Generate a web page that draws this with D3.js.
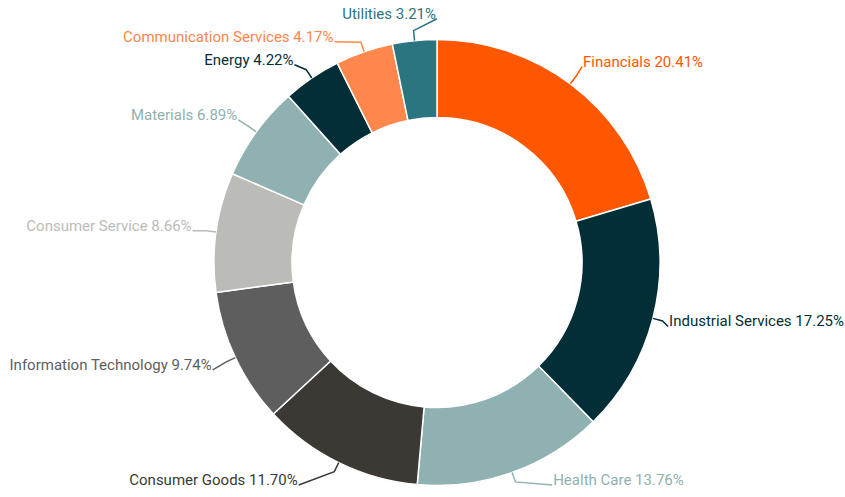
<!DOCTYPE html>
<html><head><meta charset="utf-8">
<script src="https://cdn.jsdelivr.net/npm/d3@7"></script>
<style>body{margin:0;background:#fff}svg{display:block}</style></head>
<body><svg id="c" width="845" height="497"></svg>
<script>
const categories = ["Financials","Industrial Services","Health Care","Consumer Goods","Information Technology","Consumer Service","Materials","Energy","Communication Services","Utilities"];
const values = [20.41,17.25,13.76,11.70,9.74,8.66,6.89,4.22,4.17,3.21];
const colors = ["#FF5700","#022F37","#8FB1B1","#3C3934","#5E5E5E","#BBBCB8","#8FB1B1","#022F37","#FF874B","#2B7580"];

const W=845,H=497,cx=437,cy=262.5,R=223,r=145,LR=247;
const svg=d3.select("#c");
const pie=d3.pie().sort(null).value(d=>d.value);
const arcs=pie(categories.map((c,i)=>({name:c,value:values[i],color:colors[i]})));
const arc=d3.arc().innerRadius(r).outerRadius(R);
const g=svg.append("g").attr("transform",`translate(${cx},${cy})`);
g.selectAll("path.slice").data(arcs).join("path").attr("class","slice")
  .attr("d",arc).attr("fill",d=>d.data.color).attr("stroke","#fff").attr("stroke-width",1.5);

// label layout
const labs=arcs.map(a=>{
  const m=(a.startAngle+a.endAngle)/2;
  return {a, m, side: Math.sin(m)>=0?1:-1, y:-LR*Math.cos(m)-2,
          ax:R*Math.sin(m), ay:-R*Math.cos(m),
          bx:(R+10)*Math.sin(m), by:-(R+10)*Math.cos(m)};
});
const maxY=H-cy-16, minGap=23;
[1,-1].forEach(s=>{
  const L=labs.filter(l=>l.side===s).sort((p,q)=>p.y-q.y);
  for(let i=1;i<L.length;i++) if(L[i].y<L[i-1].y+minGap) L[i].y=L[i-1].y+minGap;
  if(L.length&&L[L.length-1].y>maxY){L[L.length-1].y=maxY;
    for(let i=L.length-2;i>=0;i--) if(L[i].y>L[i+1].y-minGap) L[i].y=L[i+1].y-minGap;}
});
labs.forEach(l=>{
  const dy=Math.max(-LR,Math.min(LR,l.y));
  l.x=l.side*Math.sqrt(LR*LR-dy*dy);
  if(l.y>0.85*LR){ if(l.side>0) l.x=Math.max(l.x,l.ax+40); else l.x=Math.min(l.x,l.ax-40); }
});

const texts=g.selectAll("text.lab").data(labs).join("text").attr("class","lab")
  .attr("x",d=>d.x+d.side*1).attr("y",d=>d.y)
  .attr("text-anchor",d=>d.side>0?"start":"end")
  .attr("dominant-baseline","middle")
  .attr("fill",d=>d.a.data.color)
  .style("font-family","Roboto, sans-serif").style("font-size","15px")
  .text(d=>`${d.a.data.name} ${d.a.data.value.toFixed(2)}%`);

// keep labels inside the canvas
texts.each(function(d){
  const w=this.getComputedTextLength();
  if(d.side>0 && d.x+1+w>W-cx-1){ d.x=W-cx-2-w; }
  if(d.side<0 && d.x-1-w<-cx+1){ d.x=-cx+2+w; }
  d3.select(this).attr("x",d.x+d.side*1);
});

g.selectAll("path.conn").data(labs).join("path").attr("class","conn")
  .attr("fill","none").attr("stroke",d=>d.a.data.color).attr("stroke-width",1.5)
  .attr("d",d=>d3.line()([[d.ax,d.ay],[d.bx,d.by],[d.x,d.y+4]]));
</script></body></html>
